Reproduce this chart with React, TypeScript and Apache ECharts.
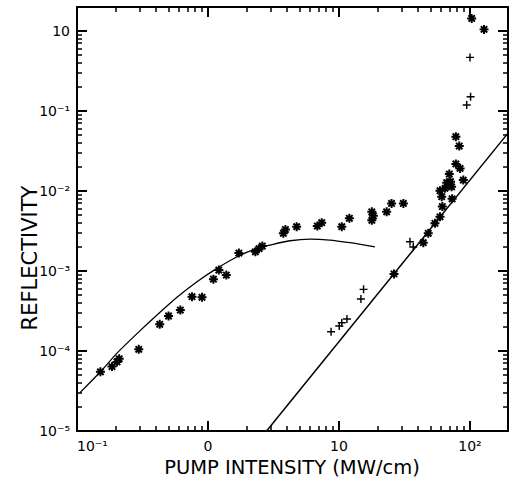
import React, { useEffect, useRef } from 'react';
import * as echarts from 'echarts';

// Axis ticks
const xTickValues = [0.1, 1, 10, 100];
const xTickLabels = ['10⁻¹', '0', '10', '10²'];
const yTickValues = [1e-5, 1e-4, 1e-3, 1e-2, 1e-1, 1];
const yTickLabels = ['10⁻⁵', '10⁻⁴', '10⁻³', '10⁻²', '10⁻¹', '10'];
const xMinorTicks = [0.2, 0.3, 0.4, 0.5, 0.6, 0.7, 0.8, 0.9, 2, 3, 4, 5, 6, 7, 8, 9, 20, 30, 40, 50, 60, 70, 80, 90];
const yMinorTicks = [
  2e-5, 3e-5, 4e-5, 5e-5, 6e-5, 7e-5, 8e-5, 9e-5,
  2e-4, 3e-4, 4e-4, 5e-4, 6e-4, 7e-4, 8e-4, 9e-4,
  2e-3, 3e-3, 4e-3, 5e-3, 6e-3, 7e-3, 8e-3, 9e-3,
  2e-2, 3e-2, 4e-2, 5e-2, 6e-2, 7e-2, 8e-2, 9e-2,
  0.2, 0.3, 0.4, 0.5, 0.6, 0.7, 0.8, 0.9,
];

// Theory curve (low intensity)
const curveX = [0.105, 0.151, 0.202, 0.287, 0.408, 0.58, 0.824, 1.17, 1.67, 2.37, 2.97, 4.23, 6.0, 8.5, 12.1, 18.8];
const curveY = [3.0e-5, 5.5e-5, 9.4e-5, 1.65e-4, 2.82e-4, 4.7e-4, 7.35e-4, 1.08e-3, 1.51e-3, 1.92e-3, 2.11e-3, 2.39e-3, 2.51e-3, 2.44e-3, 2.26e-3, 2.01e-3];

// Straight line (slope 2)
const lineX = [2.8, 195];
const lineY = [1e-5, 0.053];

// Asterisk data
const starX = [
  0.151, 0.185, 0.202, 0.21, 0.296, 0.428, 0.5, 0.615, 0.755, 0.9, 1.1, 1.21, 1.38, 1.72, 2.3, 2.45, 2.6,
  3.76, 3.9, 4.75, 6.83, 7.38, 10.5, 12.0, 17.8, 17.8, 18.3, 23.1, 25.2, 31.0, 26.3,
  44, 48, 54, 59, 61.5, 60.8, 73, 59, 64.4, 72.4, 66.4, 71, 69.5, 88.9, 78, 84, 78, 82.8, 103, 128,
];
const starY = [
  5.5e-5, 6.4e-5, 7.3e-5, 8.0e-5, 1.05e-4, 2.16e-4, 2.74e-4, 3.25e-4, 4.78e-4, 4.69e-4, 7.9e-4, 1.03e-3, 8.9e-4, 1.68e-3, 1.74e-3, 1.9e-3, 2.05e-3,
  2.96e-3, 3.3e-3, 3.58e-3, 3.65e-3, 4.02e-3, 3.58e-3, 4.56e-3, 5.5e-3, 4.3e-3, 4.9e-3, 5.5e-3, 7.0e-3, 7.0e-3, 9.2e-4,
  2.26e-3, 2.96e-3, 3.95e-3, 4.77e-3, 6.4e-3, 8.5e-3, 8.0e-3, 1.01e-2, 1.08e-2, 1.13e-2, 1.27e-2, 1.31e-2, 1.63e-2, 1.37e-2, 2.18e-2, 1.92e-2, 4.78e-2, 3.65e-2, 1.44, 1.05,
];

// Plus data
const plusX = [8.7, 10.05, 10.5, 11.5, 14.7, 15.4, 34.8, 36.9, 94.4, 101, 100];
const plusY = [1.74e-4, 2.05e-4, 2.26e-4, 2.51e-4, 4.47e-4, 5.9e-4, 2.32e-3, 2.0e-3, 0.119, 0.151, 0.469];

function starPath(arms: number, L: number, w: number) {
  let d = '';
  for (let i = 0; i < arms; i++) {
    const a = (Math.PI * i) / arms;
    const ux = Math.cos(a), uy = Math.sin(a), vx = -uy, vy = ux;
    const pts = [
      [L * ux + w * vx, L * uy + w * vy],
      [L * ux - w * vx, L * uy - w * vy],
      [-L * ux - w * vx, -L * uy - w * vy],
      [-L * ux + w * vx, -L * uy + w * vy],
    ];
    d += 'M' + pts.map((p) => p[0].toFixed(2) + ',' + p[1].toFixed(2)).join('L') + 'Z';
  }
  return 'path://' + d;
}

const PLUS = 'path://M-0.9,-5L0.9,-5L0.9,-0.9L5,-0.9L5,0.9L0.9,0.9L0.9,5L-0.9,5L-0.9,0.9L-5,0.9L-5,-0.9L-0.9,-0.9Z';

const fmt = (vals: number[], labels: string[]) => (v: number) => {
  const i = vals.findIndex((t) => Math.abs(Math.log10(v) - Math.log10(t)) < 1e-6);
  return i >= 0 ? labels[i] : '';
};

const FONT = 'DejaVu Sans';
const XMIN = 0.1, XMAX = 195, YMIN = 1e-5, YMAX = 2;

function makeAxis(min: number, max: number, position: string, label: any) {
  return {
    type: 'log',
    min,
    max,
    position,
    axisLine: { show: true, lineStyle: { color: '#000', width: 2 } },
    axisTick: { show: true, inside: true, length: 10, lineStyle: { color: '#000', width: 2 } },
    splitLine: { show: false },
    axisLabel: label,
  };
}

export default function App() {
  const ref = useRef<HTMLDivElement>(null);
  useEffect(() => {
    const chart = echarts.init(ref.current!, null, { renderer: 'svg' });
    const tickStyle = () => ({ stroke: '#000', lineWidth: 1.5 });
    const option: any = {
      animation: false,
      grid: { left: 77, right: 6, top: 7, bottom: 52 },
      xAxis: [
        makeAxis(XMIN, XMAX, 'bottom', {
          formatter: fmt(xTickValues, xTickLabels), color: '#000', fontFamily: FONT, fontSize: 14, margin: 8,
          alignMinLabel: 'left',
        }),
        makeAxis(XMIN, XMAX, 'top', { show: false }),
      ],
      yAxis: [
        makeAxis(YMIN, YMAX, 'left', { formatter: fmt(yTickValues, yTickLabels), color: '#000', fontFamily: FONT, fontSize: 14, margin: 7 }),
        makeAxis(YMIN, YMAX, 'right', { show: false }),
      ],
      graphic: [
        {
          type: 'text', x: 30, y: 258, rotation: Math.PI / 2,
          style: { text: 'REFLECTIVITY', fontFamily: FONT, fontSize: 21, fill: '#000', align: 'center', verticalAlign: 'middle' },
        },
        {
          type: 'text', x: 292, y: 467,
          style: { text: 'PUMP INTENSITY (MW/cm)', fontFamily: FONT, fontSize: 19.5, fill: '#000', align: 'center', verticalAlign: 'middle' },
        },
      ],
      series: [
        {
          type: 'custom', clip: false, z: 5,
          data: xMinorTicks.map((v) => [v, 1]),
          renderItem: (params: any, api: any) => {
            const cs = params.coordSys;
            const px = Math.round(api.coord([api.value(0), 1])[0]);
            return {
              type: 'group',
              children: [
                { type: 'line', shape: { x1: px, y1: cs.y + cs.height, x2: px, y2: cs.y + cs.height - 5 }, style: tickStyle() },
                { type: 'line', shape: { x1: px, y1: cs.y, x2: px, y2: cs.y + 5 }, style: tickStyle() },
              ],
            };
          },
        },
        {
          type: 'custom', clip: false, z: 5,
          data: yMinorTicks.map((v) => [1, v]),
          renderItem: (params: any, api: any) => {
            const cs = params.coordSys;
            const py = Math.round(api.coord([1, api.value(1)])[1]);
            return {
              type: 'group',
              children: [
                { type: 'line', shape: { x1: cs.x, y1: py, x2: cs.x + 5, y2: py }, style: tickStyle() },
                { type: 'line', shape: { x1: cs.x + cs.width, y1: py, x2: cs.x + cs.width - 5, y2: py }, style: tickStyle() },
              ],
            };
          },
        },
        {
          type: 'line', smooth: 0.25, showSymbol: false, symbol: 'none',
          data: curveX.map((x, i) => [x, curveY[i]]),
          lineStyle: { color: '#000', width: 1.3 },
        },
        {
          type: 'line', showSymbol: false, symbol: 'none',
          data: lineX.map((x, i) => [x, lineY[i]]),
          lineStyle: { color: '#000', width: 1.5 },
        },
        {
          type: 'scatter', symbol: starPath(4, 5, 1.1), symbolSize: 9,
          data: starX.map((x, i) => [x, starY[i]]),
          itemStyle: { color: '#000', opacity: 1 },
        },
        {
          type: 'scatter', symbol: PLUS, symbolSize: 8,
          data: plusX.map((x, i) => [x, plusY[i]]),
          itemStyle: { color: '#000', opacity: 1 },
        },
      ],
    };
    chart.setOption(option);
    return () => chart.dispose();
  }, []);
  return (
    <div
      ref={ref}
      style={{ position: 'absolute', left: 0, top: 0, width: 514, height: 483, background: '#fff' }}
    />
  );
}
